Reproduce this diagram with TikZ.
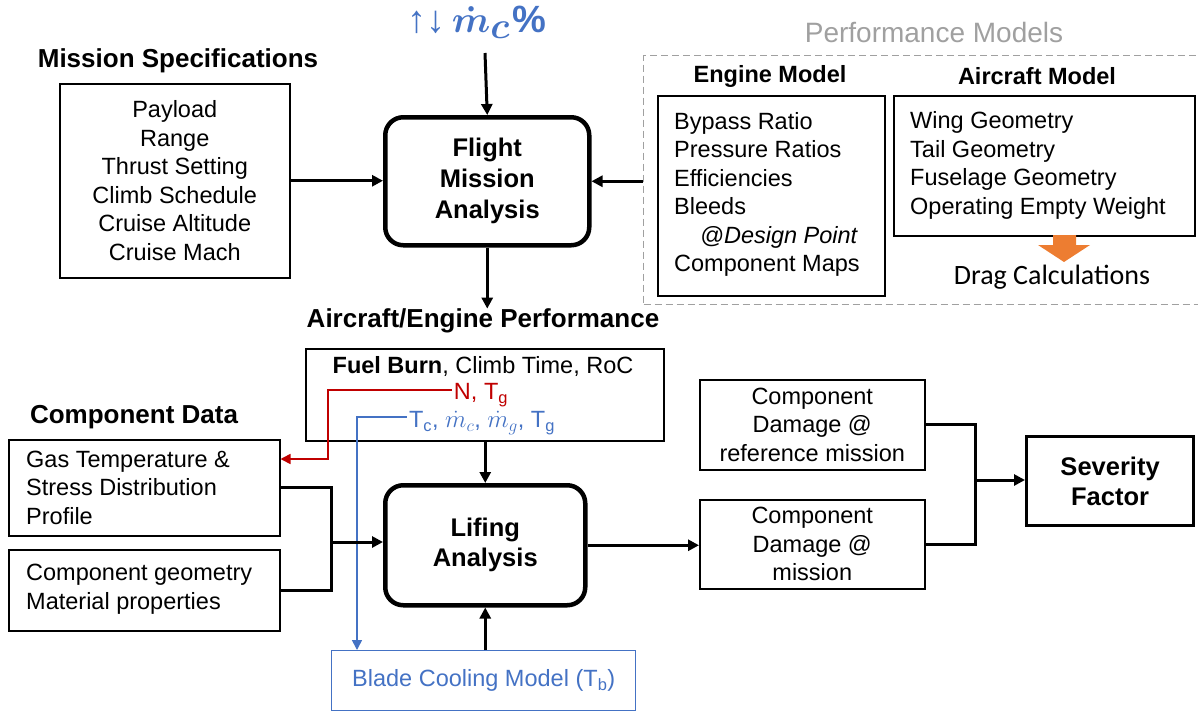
\documentclass[tikz,border=0pt]{standalone}
\usepackage{fontspec}
\setmainfont{Liberation Sans}
\newfontfamily\carlito{Carlito}
\usetikzlibrary{arrows.meta}
\definecolor{myblue}{HTML}{4472C4}
\definecolor{myred}{HTML}{C00000}
\definecolor{myorange}{HTML}{ED7D31}
\definecolor{mygray}{HTML}{A0A0A0}
\newcommand\fsz[2]{\fontsize{#1}{#2}\selectfont}
\tikzset{
  box/.style={draw, line width=1.5pt, inner sep=0pt, align=center, font=\fsz{23.5}{28.5}},
  rbox/.style={draw, line width=4.5pt, rounded corners=18pt, inner sep=0pt, align=center, font=\fsz{25.5}{31}\bfseries},
  title/.style={inner sep=0pt, font=\fsz{26}{30}\bfseries},
  stitle/.style={inner sep=0pt, font=\fsz{23.5}{26}\bfseries},
  txt/.style={inner sep=0pt, align=left, font=\fsz{23.5}{28.5}},
  conn/.style={line width=3pt},
  arr/.style={line width=3pt, -{Triangle[length=11pt,width=11pt]}},
  thinarr/.style={line width=1.6pt, -{Triangle[length=10pt,width=10pt]}},
}
\begin{document}
\begin{tikzpicture}[x=1pt,y=-1pt]
\useasboundingbox (0,0) rectangle (1198,712);

% ---------- top label ----------
\node[inner sep=0pt, text=myblue, font=\fsz{38}{40}\bfseries] (mc) at (477,22)
  {↑↓\hspace{6pt}\scalebox{1.5}{\boldmath$\dot m_c$}\hspace{2pt}\%};
\coordinate (mctop) at (485,53);

% ---------- Mission specifications ----------
\node[title] (mst) at (178,61) {Mission Specifications};
\node[box, anchor=north west, minimum width=230pt, minimum height=194pt] (ms) at (59,83)
  {Payload\\Range\\Thrust Setting\\Climb Schedule\\Cruise Altitude\\Cruise Mach};

% ---------- Flight Mission Analysis ----------
\node[rbox, anchor=north west, minimum width=204pt, minimum height=128pt] (fma) at (383,115)
  {Flight\\Mission\\Analysis};

% ---------- Performance models ----------
\node[inner sep=0pt, text=mygray, font=\fsz{28}{32}] (pmt) at (934,32) {Performance Models};
\node[draw=mygray, line width=1.4pt, dash pattern=on 7pt off 4pt, anchor=north west,
      minimum width=575pt, minimum height=249pt, inner sep=0pt] (pm) at (643,55) {};
\node[stitle] (emt) at (770,76) {Engine Model};
\node[stitle] (amt) at (1037,76) {Aircraft Model};
\node[box, anchor=north west, minimum width=227pt, minimum height=200pt] (eng) at (657,95) {};
\node[txt, anchor=west] (engl) at (674,194.5)
  {Bypass Ratio\\Pressure Ratios\\Efficiencies\\Bleeds\\\hspace*{26pt}\textit{@Design Point}\\Component Maps};
\node[box, anchor=north west, minimum width=301pt, minimum height=140pt] (air) at (893,95) {};
\node[txt, anchor=west] (airl) at (910,165.5)
  {Wing Geometry\\Tail Geometry\\Fuselage Geometry\\Operating Empty Weight};
\fill[myorange] (1053,235) -- (1076,235) -- (1076,245) -- (1090,245) -- (1064,262)
  -- (1038,245) -- (1053,245) -- cycle;
\node[inner sep=0pt, font=\carlito\fsz{28}{32}] (drag) at (1052,277) {Drag Calculations};

% ---------- Aircraft/Engine performance ----------
\node[title] (aept) at (483,321) {Aircraft/Engine Performance};
\node[box, anchor=north west, minimum width=358pt, minimum height=92pt] (perf) at (305,348) {};
\node[inner sep=0pt, font=\fsz{23.5}{28}] (fb) at (483,366) {\textbf{Fuel Burn}, Climb Time, RoC};
\node[inner sep=2pt, text=myred, font=\fsz{23.5}{28}] (ntg) at (481,395) {N, T\textsubscript{g}};
\node[inner sep=2pt, text=myblue, font=\fsz{23.5}{28}] (tcs) at (482,423)
  {T\textsubscript{c}, $\dot m_c$, $\dot m_g$, T\textsubscript{g}};

% ---------- Component data ----------
\node[title] (cdt) at (134,417) {Component Data};
\node[box, anchor=north west, minimum width=271pt, minimum height=96pt] (gas) at (8,439) {};
\node[txt, anchor=west] (gasl) at (26,487.5) {Gas Temperature \&\\Stress Distribution\\Profile};
\node[box, anchor=north west, minimum width=271pt, minimum height=81pt] (comp) at (8,549) {};
\node[txt, anchor=west] (compl) at (26,589) {Component geometry\\Material properties};

% ---------- Lifing ----------
\node[rbox, anchor=north west, minimum width=200pt, minimum height=120pt, font=\fsz{25.5}{30}\bfseries] (lif) at (383,483)
  {Lifing\\Analysis};
\node[box, draw=myblue, line width=1.4pt, text=myblue, anchor=north west, minimum width=304pt, minimum height=60pt] (blade) at (331,650)
  {Blade Cooling Model (T\textsubscript{b})};

% ---------- Damage and severity ----------
\node[box, anchor=north west, minimum width=225pt, minimum height=90pt] (dref) at (699,379)
  {Component\\Damage @\\reference mission};
\node[box, anchor=north west, minimum width=225pt, minimum height=89pt] (dmis) at (699,499)
  {Component\\Damage @\\mission};
\node[box, line width=3.2pt, anchor=north west, minimum width=167pt, minimum height=89pt, font=\fsz{25.5}{30}\bfseries] (sev) at (1025,435)
  {Severity\\Factor};

% ---------- connectors ----------
\draw[arr] (mctop) -- (fma.north);
\draw[arr] (ms.east) -- (ms.east -| fma.west);
\draw[arr] (pm.west |- fma.east) -- (fma.east);
\draw[arr] (fma.south) -- (fma.south |- aept.north);
\draw[arr] (perf.south -| lif.north) -- (lif.north);

\coordinate (rc) at (328,459);
\draw[thinarr, myred] ([yshift=5pt]ntg.west) -| (rc) -- (gas.east |- rc);
\coordinate (bc) at (357,650);
\draw[thinarr, myblue] ([yshift=6pt]tcs.west) -| (bc);

\coordinate (jl) at (331,542);
\draw[conn] (gas.east) -| (jl);
\draw[conn] (comp.east) -| (jl);
\draw[arr] (jl) -- (jl -| lif.west);
\draw[arr] (blade.north -| lif.south) -- (lif.south);
\draw[arr] (lif.east) -- (lif.east -| dmis.west);

\coordinate (jr) at (975,480);
\draw[conn] (dref.east) -| (jr);
\draw[conn] (dmis.east) -| (jr);
\draw[arr] (jr) -- (jr -| sev.west);
\end{tikzpicture}
\end{document}
